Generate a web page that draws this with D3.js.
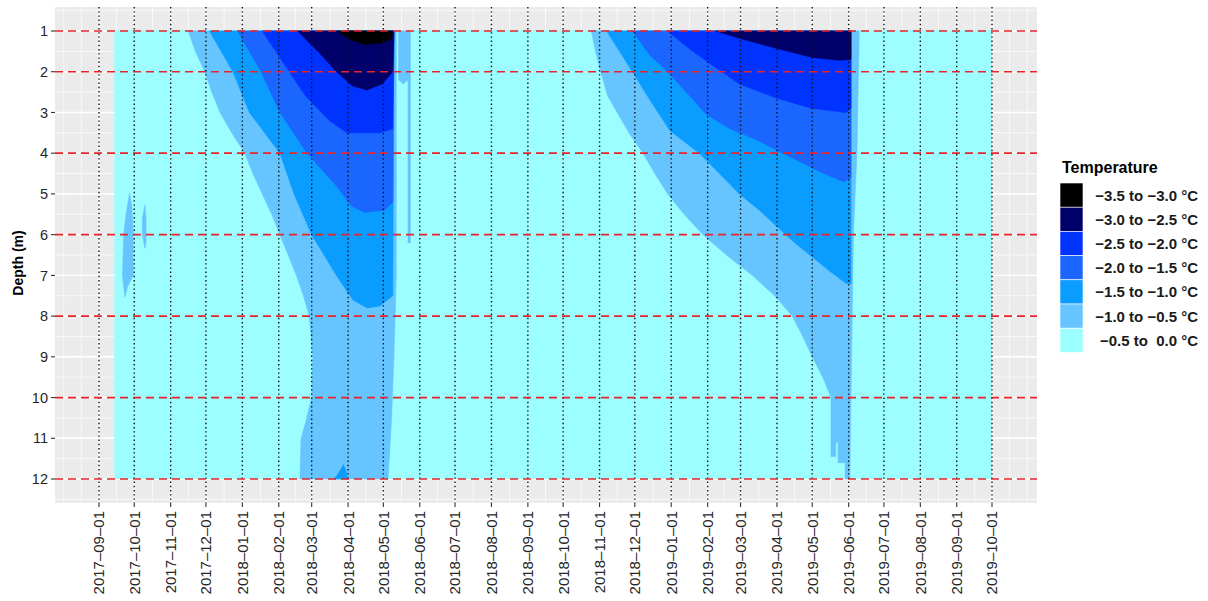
<!DOCTYPE html>
<html>
<head>
<meta charset="utf-8">
<script src="https://cdn.jsdelivr.net/npm/d3@7"></script>
<style>
  body { margin: 0; background: #fff; }
  text { font-family: "Liberation Sans", Arial, Helvetica, sans-serif; }
</style>
</head>
<body>
<div id="chart"></div>
<script>
// legend classes, coldest first
let tempClasses = ['\u22123.5 to \u22123.0 \u00b0C', '\u22123.0 to \u22122.5 \u00b0C', '\u22122.5 to \u22122.0 \u00b0C',
    '\u22122.0 to \u22121.5 \u00b0C', '\u22121.5 to \u22121.0 \u00b0C', '\u22121.0 to \u22120.5 \u00b0C', '\u22120.5 to  0.0 \u00b0C'];
let classColors = ['#000000', '#00006b', '#0033ff', '#1a66ff', '#0a9cff', '#66c4ff', '#9cfeff'];

let depthTicks = [1, 2, 3, 4, 5, 6, 7, 8, 9, 10, 11, 12];
let refDepths = [1, 2, 4, 6, 8, 10, 12];
let firstTick = '2017-09-01', lastTick = '2019-10-01';

// logger record: whole span is -0.5..0.0 unless covered below
let recordStart = '2017-09-14', recordEnd = '2019-10-01';
let recordTop = 1, recordBottom = 12;

// outlines [date, depth] of the colder zones, closed along the top sensor
// winter 2017-18
let w1Below05 = [['2017-11-16', 1], ['2017-11-22', 1.5], ['2017-11-30', 2], ['2017-12-06', 2.5], ['2017-12-13', 3],
    ['2017-12-23', 3.5], ['2018-01-03', 4], ['2018-01-10', 4.5], ['2018-01-18', 5], ['2018-01-26', 5.5],
    ['2018-02-02', 6], ['2018-02-09', 6.5], ['2018-02-16', 7], ['2018-02-22', 7.5], ['2018-02-27', 8],
    ['2018-03-02', 9], ['2018-03-01', 10], ['2018-02-24', 10.6], ['2018-02-20', 11], ['2018-02-19', 12],
    ['2018-05-05', 12], ['2018-05-08', 10.5], ['2018-05-10', 9], ['2018-05-12', 7], ['2018-05-12', 1]];
let w1Strip05 = [['2018-05-14', 1], ['2018-05-14', 2.2], ['2018-05-18', 2.3], ['2018-05-22', 2.2], ['2018-05-22', 6.2],
    ['2018-05-24', 6.2], ['2018-05-24', 1]];
let w1BlobA05 = [['2017-09-27', 4.98], ['2017-09-29', 5.3], ['2017-09-30', 6], ['2017-09-30', 7], ['2017-09-25', 7.3],
    ['2017-09-23', 7.53], ['2017-09-21', 7.0], ['2017-09-22', 6], ['2017-09-24', 5.5]];
let w1BlobB05 = [['2017-10-10', 5.27], ['2017-10-11', 5.6], ['2017-10-11', 6.2], ['2017-10-10', 6.33], ['2017-10-08', 6],
    ['2017-10-08', 5.6]];
let w1Below10 = [['2017-12-04', 1], ['2017-12-24', 2], ['2018-01-07', 3], ['2018-02-02', 4], ['2018-02-14', 5],
    ['2018-03-01', 6], ['2018-03-22', 7], ['2018-04-05', 7.6], ['2018-04-17', 7.8], ['2018-04-28', 7.75],
    ['2018-05-09', 7.5], ['2018-05-10', 1]];
let w1Patch10 = [['2018-03-20', 12], ['2018-03-24', 11.85], ['2018-03-28', 11.65], ['2018-03-30', 11.8], ['2018-04-01', 12]];
let w1Below15 = [['2017-12-28', 1], ['2018-01-17', 2], ['2018-02-02', 3], ['2018-02-25', 4], ['2018-03-22', 4.8],
    ['2018-04-04', 5.3], ['2018-04-15', 5.45], ['2018-05-02', 5.4], ['2018-05-09', 5.2], ['2018-05-10', 1]];
let w1Below20 = [['2018-01-18', 1], ['2018-02-10', 2], ['2018-02-24', 2.6], ['2018-03-16', 3.2], ['2018-03-31', 3.5],
    ['2018-04-28', 3.5], ['2018-05-09', 3.4], ['2018-05-10', 1]];
let w1Below25 = [['2018-02-17', 1], ['2018-03-08', 1.55], ['2018-03-22', 2], ['2018-04-05', 2.35], ['2018-04-17', 2.45],
    ['2018-04-30', 2.3], ['2018-05-09', 2.0], ['2018-05-10', 1]];
let w1Below30 = [['2018-03-23', 1], ['2018-04-02', 1.2], ['2018-04-15', 1.33], ['2018-04-28', 1.3], ['2018-05-08', 1.2],
    ['2018-05-09', 1]];

// winter 2018-19
let w2Below05 = [['2018-10-25', 1], ['2018-10-29', 1.55], ['2018-11-02', 2], ['2018-11-08', 2.6], ['2018-11-16', 3],
    ['2018-11-26', 3.5], ['2018-12-08', 4], ['2018-12-18', 4.5], ['2018-12-29', 5], ['2019-01-12', 5.5],
    ['2019-01-28', 6], ['2019-02-17', 6.5], ['2019-03-11', 7], ['2019-03-30', 7.5], ['2019-04-14', 8],
    ['2019-04-23', 8.5], ['2019-05-01', 9], ['2019-05-10', 9.5], ['2019-05-17', 10], ['2019-05-17', 11.45],
    ['2019-05-21', 11.45], ['2019-05-21', 11.1], ['2019-05-23', 11.1], ['2019-05-23', 11.6], ['2019-05-29', 11.6],
    ['2019-05-29', 12], ['2019-06-02', 12], ['2019-06-03', 10], ['2019-06-04', 8], ['2019-06-05', 6],
    ['2019-06-08', 4], ['2019-06-09', 2.5], ['2019-06-10', 1]];
let w2Below10 = [['2018-11-07', 1], ['2018-11-18', 1.5], ['2018-11-29', 2], ['2018-12-14', 2.7], ['2018-12-31', 3.45],
    ['2019-01-25', 4], ['2019-02-11', 4.5], ['2019-02-28', 5], ['2019-03-17', 5.4], ['2019-04-01', 5.8],
    ['2019-04-16', 6.2], ['2019-04-29', 6.5], ['2019-05-16', 6.9], ['2019-05-30', 7.2], ['2019-06-03', 7.2],
    ['2019-06-03', 1]];
let w2Below15 = [['2018-11-29', 1], ['2018-12-14', 1.6], ['2018-12-29', 2], ['2019-01-17', 2.6], ['2019-01-31', 3.05],
    ['2019-02-20', 3.4], ['2019-03-17', 3.7], ['2019-04-02', 3.95], ['2019-04-20', 4.2], ['2019-05-07', 4.45],
    ['2019-05-28', 4.7], ['2019-06-03', 4.6], ['2019-06-03', 1]];
let w2Below20 = [['2018-12-29', 1], ['2019-01-17', 1.45], ['2019-02-03', 1.8], ['2019-02-28', 2.3], ['2019-04-01', 2.65],
    ['2019-05-01', 2.9], ['2019-05-30', 3.0], ['2019-06-03', 2.9], ['2019-06-03', 1]];
let w2Below25 = [['2019-02-08', 1], ['2019-02-28', 1.18], ['2019-04-01', 1.43], ['2019-05-01', 1.65], ['2019-05-24', 1.72],
    ['2019-06-03', 1.7], ['2019-06-03', 1]];

// which class each outline gets (index into tempClasses), drawn warm to cold
let zones = [
    {pts: w1Below05, cls: 5}, {pts: w1Strip05, cls: 5}, {pts: w1BlobA05, cls: 5}, {pts: w1BlobB05, cls: 5},
    {pts: w2Below05, cls: 5},
    {pts: w1Below10, cls: 4}, {pts: w1Patch10, cls: 4}, {pts: w2Below10, cls: 4},
    {pts: w1Below15, cls: 3}, {pts: w2Below15, cls: 3},
    {pts: w1Below20, cls: 2}, {pts: w2Below20, cls: 2},
    {pts: w1Below25, cls: 1}, {pts: w2Below25, cls: 1},
    {pts: w1Below30, cls: 0}
];

let W = 1208, H = 601;
let panel = {left: 55, right: 1037, top: 7, bottom: 503};
let parse = d3.timeParse('%Y-%m-%d');

let x = d3.scaleTime()
    .domain([parse(firstTick), parse(lastTick)])
    .range([99, 992]);
let y = d3.scaleLinear()
    .domain([1, 12])
    .range([31, 479]);

let svg = d3.select('#chart').append('svg')
    .attr('width', W)
    .attr('height', H);

svg.append('rect')
    .attr('x', panel.left).attr('y', panel.top)
    .attr('width', panel.right - panel.left)
    .attr('height', panel.bottom - panel.top)
    .attr('fill', '#ebebeb');

let monthTicks = d3.timeMonth.range(parse(firstTick), d3.timeDay.offset(parse(lastTick), 1));

// minor grid like ggplot: extended breaks + midpoints
let step = monthTicks[1] - monthTicks[0];
let ext = [new Date(+monthTicks[0] - step)].concat(monthTicks, [new Date(+monthTicks[monthTicks.length - 1] + step)]);
let minorX = [];
for (let i = 0; i < ext.length - 1; i++) {
    minorX.push(ext[i], new Date((+ext[i] + +ext[i + 1]) / 2));
}
minorX.push(ext[ext.length - 1]);
let minorY = [];
for (let d = 0.5; d <= 12.5; d += 0.5) minorY.push(d);

let grid = svg.append('g');
grid.selectAll('.minor-x').data(minorX).enter().append('line')
    .attr('x1', d => x(d)).attr('x2', d => x(d))
    .attr('y1', panel.top).attr('y2', panel.bottom)
    .attr('stroke', '#fff').attr('stroke-width', 0.7);
grid.selectAll('.minor-y').data(minorY).enter().append('line')
    .attr('x1', panel.left).attr('x2', panel.right)
    .attr('y1', d => y(d)).attr('y2', d => y(d))
    .attr('stroke', '#fff').attr('stroke-width', 0.7);
grid.selectAll('.major-x').data(monthTicks).enter().append('line')
    .attr('x1', d => x(d)).attr('x2', d => x(d))
    .attr('y1', panel.top).attr('y2', panel.bottom)
    .attr('stroke', '#fff').attr('stroke-width', 1.4);
grid.selectAll('.major-y').data(depthTicks).enter().append('line')
    .attr('x1', panel.left).attr('x2', panel.right)
    .attr('y1', d => y(d)).attr('y2', d => y(d))
    .attr('stroke', '#fff').attr('stroke-width', 1.4);

// record background
svg.append('rect')
    .attr('x', x(parse(recordStart)))
    .attr('y', y(recordTop) - 1)
    .attr('width', x(parse(recordEnd)) - x(parse(recordStart)))
    .attr('height', y(recordBottom) - y(recordTop) + 1)
    .attr('fill', classColors[6]);

let line = d3.line()
    .x(d => x(parse(d[0])))
    .y(d => y(d[1]));

svg.append('g').selectAll('path')
    .data(zones)
    .enter().append('path')
    .attr('d', d => line(d.pts) + 'Z')
    .attr('fill', d => classColors[d.cls])
    .attr('stroke', d => classColors[d.cls])
    .attr('stroke-width', 0.6);

// month markers
svg.append('g').selectAll('line')
    .data(monthTicks)
    .enter().append('line')
    .attr('x1', d => x(d)).attr('x2', d => x(d))
    .attr('y1', panel.top).attr('y2', panel.bottom)
    .attr('stroke', '#111')
    .attr('stroke-width', 1.4)
    .attr('stroke-dasharray', '1.4 2.8');

// reference depths
svg.append('g').selectAll('line')
    .data(refDepths)
    .enter().append('line')
    .attr('x1', panel.left).attr('x2', panel.right)
    .attr('y1', d => y(d)).attr('y2', d => y(d))
    .attr('stroke', '#e8242a')
    .attr('stroke-width', 1.7)
    .attr('stroke-dasharray', '8 5');

// y axis
let yAxis = svg.append('g');
yAxis.selectAll('line').data(depthTicks).enter().append('line')
    .attr('x1', panel.left - 4).attr('x2', panel.left)
    .attr('y1', d => y(d)).attr('y2', d => y(d))
    .attr('stroke', '#333').attr('stroke-width', 1.1);
yAxis.selectAll('text').data(depthTicks).enter().append('text')
    .attr('x', panel.left - 7)
    .attr('y', d => y(d))
    .attr('dy', '0.36em')
    .attr('text-anchor', 'end')
    .attr('font-size', 14.5)
    .attr('fill', '#262626')
    .text(d => d);

svg.append('text')
    .attr('transform', `translate(23, ${(panel.top + panel.bottom) / 2 + 8}) rotate(-90)`)
    .attr('text-anchor', 'middle')
    .attr('font-size', 14)
    .attr('font-weight', 'bold')
    .text('Depth (m)');

// x axis
let fmt = d3.timeFormat('%Y-%m-%d');
let xAxis = svg.append('g');
xAxis.selectAll('line').data(monthTicks).enter().append('line')
    .attr('x1', d => x(d)).attr('x2', d => x(d))
    .attr('y1', panel.bottom).attr('y2', panel.bottom + 4)
    .attr('stroke', '#333').attr('stroke-width', 1.1);
xAxis.selectAll('text').data(monthTicks).enter().append('text')
    .attr('transform', d => `translate(${x(d)}, ${panel.bottom + 8}) rotate(-90)`)
    .attr('dy', '0.36em')
    .attr('text-anchor', 'end')
    .attr('font-size', 15)
    .attr('fill', '#262626')
    .text(d => fmt(d).replace(/-/g, '\u2013'));

// legend
let legend = svg.append('g').attr('transform', 'translate(1060, 0)');
legend.append('text')
    .attr('x', 2).attr('y', 173)
    .attr('font-size', 16)
    .attr('font-weight', 'bold')
    .text('Temperature');
let keys = legend.selectAll('.key')
    .data(tempClasses)
    .enter().append('g')
    .attr('class', 'key')
    .attr('transform', (d, i) => `translate(0, ${183 + i * 24.2})`);
keys.append('rect')
    .attr('width', 23).attr('height', 24.2)
    .attr('fill', (d, i) => classColors[i])
    .attr('stroke', '#fff').attr('stroke-width', 0.6);
keys.append('text')
    .attr('x', 138).attr('y', 12.1)
    .attr('dy', '0.36em')
    .attr('text-anchor', 'end')
    .attr('font-size', 15)
    .attr('font-weight', 'bold')
    .attr('fill', '#1a1a1a')
    .style('white-space', 'pre')
    .text(d => d);
</script>
</body>
</html>
